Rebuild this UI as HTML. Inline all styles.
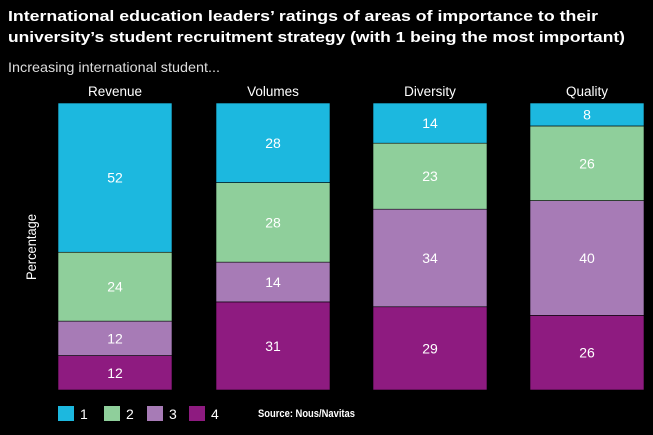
<!DOCTYPE html>
<html><head><meta charset="utf-8"><style>
body{margin:0;background:#000;width:653px;height:430px;overflow:hidden;font-family:"Liberation Sans",sans-serif;color:#fff}
svg text{font-family:"Liberation Sans",sans-serif}
</style></head><body>
<svg id="c" width="653" height="430">
<text x="8" y="21" fill="#fff" font-size="15" font-weight="bold" textLength="590" lengthAdjust="spacingAndGlyphs">International education leaders’ ratings of areas of importance to their</text>
<text x="8" y="42" fill="#fff" font-size="15" font-weight="bold" textLength="617" lengthAdjust="spacingAndGlyphs">university’s student recruitment strategy (with 1 being the most important)</text>
<text x="8" y="72" fill="#ddd" font-size="14" textLength="212" lengthAdjust="spacingAndGlyphs">Increasing international student...</text>
<text transform="translate(36,247) rotate(-90)" text-anchor="middle" fill="#fff" font-size="14" textLength="66" lengthAdjust="spacingAndGlyphs">Percentage</text>
<text x="258" y="417" fill="#fff" font-size="11" font-weight="bold" textLength="97" lengthAdjust="spacingAndGlyphs">Source: Nous/Navitas</text>
</svg>
<script>
const categories=["Revenue","Volumes","Diversity","Quality"];
const rank1=[52,28,14,8];
const rank2=[24,28,23,26];
const rank3=[12,14,34,40];
const rank4=[12,31,29,26];
const seriesNames=["1","2","3","4"];
const colors=["#1cb8df","#8fcf9b","#a77bb6","#8e1b80"];
const series=[rank1,rank2,rank3,rank4];
const svg=document.getElementById('c');
const NS="http://www.w3.org/2000/svg";
const top0=103,bot=390,barW=114;
const xLeft=[58,216,373,530];
function y(v,total){return (bot-top0)*v/total;}
categories.forEach((cat,i)=>{
  const t=document.createElementNS(NS,'text');
  t.setAttribute('x',xLeft[i]+barW/2);t.setAttribute('y',96);
  t.setAttribute('text-anchor','middle');t.setAttribute('fill','#fff');t.setAttribute('font-size','13.5');
  t.textContent=cat;
  
  
  svg.appendChild(t);
  const total=series.reduce((a,s)=>a+s[i],0);
  let cum=0;
  for(let s=3;s>=0;s--){
    const v=series[s][i];
    const h=y(v,total);const yy=bot-y(cum,total)-h;
    const r=document.createElementNS(NS,'rect');
    r.setAttribute('x',xLeft[i]);r.setAttribute('y',yy);r.setAttribute('width',barW);r.setAttribute('height',h);
    r.setAttribute('fill',colors[s]);r.setAttribute('stroke','#000');r.setAttribute('stroke-width','0.6');
    
    
    svg.appendChild(r);
    const tv=document.createElementNS(NS,'text');
    tv.setAttribute('x',xLeft[i]+barW/2);tv.setAttribute('y',yy+h/2+5);
    tv.setAttribute('text-anchor','middle');tv.setAttribute('fill','#fff');tv.setAttribute('font-size','14');
    tv.textContent=v;
    
    
    svg.appendChild(tv);
    cum+=v;
  }
});
const lx=[58,104,147,189];
seriesNames.forEach((n,i)=>{
  const r=document.createElementNS(NS,'rect');
  r.setAttribute('x',lx[i]);r.setAttribute('y',406);r.setAttribute('width',16);r.setAttribute('height',15);r.setAttribute('fill',colors[i]);
  
  
  svg.appendChild(r);
  const t=document.createElementNS(NS,'text');
  t.setAttribute('x',lx[i]+22);t.setAttribute('y',419);t.setAttribute('fill','#fff');t.setAttribute('font-size','14');
  t.textContent=n;
  
  
  svg.appendChild(t);
});
</script>
</body></html>
